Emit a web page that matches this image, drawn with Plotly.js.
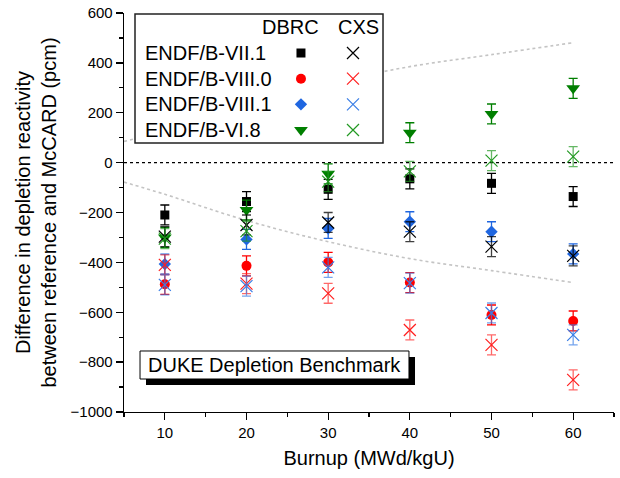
<!DOCTYPE html>
<html><head><meta charset="utf-8">
<script src="https://cdn.plot.ly/plotly-3.0.1.min.js"></script>
<style>html,body{margin:0;padding:0;background:#fff}#chart{width:620px;height:478px}</style>
</head><body><div id="chart"></div>
<script>
// ---- data ----
const burnup = [10, 20, 30, 40, 50, 60];
const libraries = ['ENDF/B-VII.1', 'ENDF/B-VIII.0', 'ENDF/B-VIII.1', 'ENDF/B-VI.8'];
const methods = ['DBRC', 'CXS'];
const dbrc_VII1  = [-210, -156, -107, -65, -83, -136];
const dbrc_VIII0 = [-488, -414, -400, -481, -611, -635];
const dbrc_VIII1 = [-407, -308, -264, -237, -277, -366];
const dbrc_VI8   = [-300, -190, -45, 120, 195, 298];
const cxs_VII1   = [-297, -250, -240, -277, -337, -374];
const cxs_VIII0  = [-410, -485, -524, -671, -731, -871];
const cxs_VIII1  = [-490, -495, -420, -483, -603, -691];
const cxs_VI8    = [-305, -275, -76, -35, 8, 24];
const err_dbrc   = [40, 40, 40, 40, 40, 40];
const err_cxs    = [40, 40, 40, 40, 40, 40];
const bandX      = [5, 10, 20, 30, 40, 50, 60];
const bandUpper  = [85, 127, 232, 317, 385, 433, 481];
const bandLower  = [-78, -127, -232, -317, -385, -433, -481];
const benchmarkLabel = 'DUKE Depletion Benchmark';

// ---- styles ----
const dbrcSeries = [dbrc_VII1, dbrc_VIII0, dbrc_VIII1, dbrc_VI8];
const cxsSeries = [cxs_VII1, cxs_VIII0, cxs_VIII1, cxs_VI8];
const dbrcColors = ['#000000', '#ff0000', '#1f66e0', '#007f00'];
const cxsColors = ['#000000', '#ff2020', '#3a7ee6', '#229922'];
const cxsErrColors = ['rgba(0,0,0,0.75)', 'rgba(255,40,40,0.7)', 'rgba(58,126,230,0.7)', 'rgba(34,153,34,0.7)'];
const dbrcSymbols = ['square', 'circle', 'diamond', 'triangle-down'];
const dbrcSizes = [9, 10, 9.5, 12];
const FONT = 'Liberation Sans, Arial, sans-serif';

const traces = [];
[bandUpper, bandLower].forEach(b => traces.push({
  x: bandX, y: b, mode: 'lines', line: {color: '#c4c4c4', width: 1.6, dash: 'dot', shape: 'spline'},
  showlegend: false, hoverinfo: 'skip'
}));
dbrcSeries.forEach((s, i) => traces.push({
  x: burnup, y: s, mode: 'markers', name: libraries[i] + ' DBRC',
  marker: {symbol: dbrcSymbols[i], size: dbrcSizes[i], color: dbrcColors[i]},
  error_y: {type: 'data', array: err_dbrc, color: dbrcColors[i], thickness: 1.3, width: 4.5},
  showlegend: false
}));
cxsSeries.forEach((s, i) => traces.push({
  x: burnup, y: s, mode: 'markers', name: libraries[i] + ' CXS',
  marker: {symbol: 'x-thin-open', size: 12, color: cxsColors[i], line: {color: cxsColors[i], width: 1.2}},
  error_y: {type: 'data', array: err_cxs, color: cxsErrColors[i], thickness: 1.3, width: 4.5},
  showlegend: false
}));
// legend grid (helper subplot)
libraries.forEach((lib, i) => {
  traces.push({x: [methods[0]], y: [lib], xaxis: 'x2', yaxis: 'y2', mode: 'markers',
    marker: {symbol: dbrcSymbols[i], size: dbrcSizes[i], color: dbrcColors[i]}, showlegend: false, hoverinfo: 'skip'});
  traces.push({x: [methods[1]], y: [lib], xaxis: 'x2', yaxis: 'y2', mode: 'markers',
    marker: {symbol: 'x-thin-open', size: 12, color: cxsColors[i], line: {color: cxsColors[i], width: 1.2}}, showlegend: false, hoverinfo: 'skip'});
});

const legX = [-3.19, 1.577], legY = [3.506, -1.52];
const annotations = [];
libraries.forEach((lib, i) => annotations.push({
  text: lib, xref: 'paper', x: 0.0388, xanchor: 'left', yref: 'y2', y: i, yanchor: 'middle',
  showarrow: false, font: {size: 20, color: '#000', family: FONT}
}));
[[methods[0], 0.3408], [methods[1], 0.4776]].forEach(([m, px]) => annotations.push({
  text: m, xref: 'paper', x: px, xanchor: 'center', yref: 'y2', y: -1, yanchor: 'middle',
  showarrow: false, font: {size: 20, color: '#000', family: FONT}
}));
annotations.push({text: benchmarkLabel, xref: 'paper', yref: 'paper', x: 0.3071, y: 0.1178,
  xanchor: 'center', yanchor: 'middle', showarrow: false, font: {size: 20, color: '#000', family: FONT}});

const shapes = [
  {type: 'line', xref: 'paper', x0: 0, x1: 1, yref: 'y', y0: 0, y1: 0, layer: 'below',
   line: {color: '#000', width: 1.3, dash: 'dot'}},
  {type: 'rect', xref: 'x2', yref: 'y2', x0: legX[0], x1: legX[1], y0: legY[0], y1: legY[1],
   fillcolor: '#fff', line: {width: 0}, layer: 'below'},
  {type: 'rect', xref: 'paper', yref: 'paper', x0: 0.02245, x1: 0.5286, y0: 0.6742, y1: 0.9975,
   fillcolor: 'rgba(0,0,0,0)', line: {color: '#222', width: 1.5}, layer: 'above'},
  {type: 'rect', xref: 'paper', yref: 'paper', x0: 0.0449, x1: 0.5939, y0: 0.0677, y1: 0.1378,
   fillcolor: '#000', line: {width: 0}, layer: 'above'},
  {type: 'rect', xref: 'paper', yref: 'paper', x0: 0.0327, x1: 0.5816, y0: 0.0827, y1: 0.1529,
   fillcolor: '#fff', line: {color: '#000', width: 1}, layer: 'above'}
];

const axisCommon = {
  showline: true, linecolor: '#000', linewidth: 1.3, ticks: 'outside', ticklen: 7, tickwidth: 1.3,
  tickcolor: '#000', showgrid: false, zeroline: false, automargin: false,
  tickfont: {size: 15, color: '#000', family: FONT}
};
const layout = {
  width: 620, height: 478, margin: {l: 124, r: 6, t: 13, b: 66, pad: 0},
  paper_bgcolor: '#fff', plot_bgcolor: '#fff', font: {family: FONT, color: '#000'},
  showlegend: false,
  xaxis: Object.assign({}, axisCommon, {
    range: [5, 65], tick0: 10, dtick: 10,
    minor: {tick0: 5, dtick: 5, ticks: 'outside', ticklen: 4, tickwidth: 1.3, tickcolor: '#000', showgrid: false},
    title: {text: 'Burnup (MWd/kgU)', font: {size: 20, color: '#000', family: FONT}, standoff: 10}
  }),
  yaxis: Object.assign({}, axisCommon, {
    range: [-1000, 600], tick0: 0, dtick: 200,
    minor: {tick0: 0, dtick: 100, ticks: 'outside', ticklen: 4, tickwidth: 1.3, tickcolor: '#000', showgrid: false},
    title: {text: 'Difference in depletion reactivity<br>between reference and McCARD (pcm)', font: {size: 20, color: '#000', family: FONT}, standoff: 8}
  }),
  xaxis2: {domain: [0.02245, 0.5286], anchor: 'y2', type: 'category', categoryorder: 'array', categoryarray: methods,
    range: legX, visible: false, fixedrange: true},
  yaxis2: {domain: [0.6742, 0.9975], anchor: 'x2', type: 'category', categoryorder: 'array', categoryarray: libraries,
    range: legY, visible: false, fixedrange: true},
  shapes: shapes, annotations: annotations
};
Plotly.newPlot('chart', traces, layout, {displayModeBar: false, staticPlot: true});
</script></body></html>
